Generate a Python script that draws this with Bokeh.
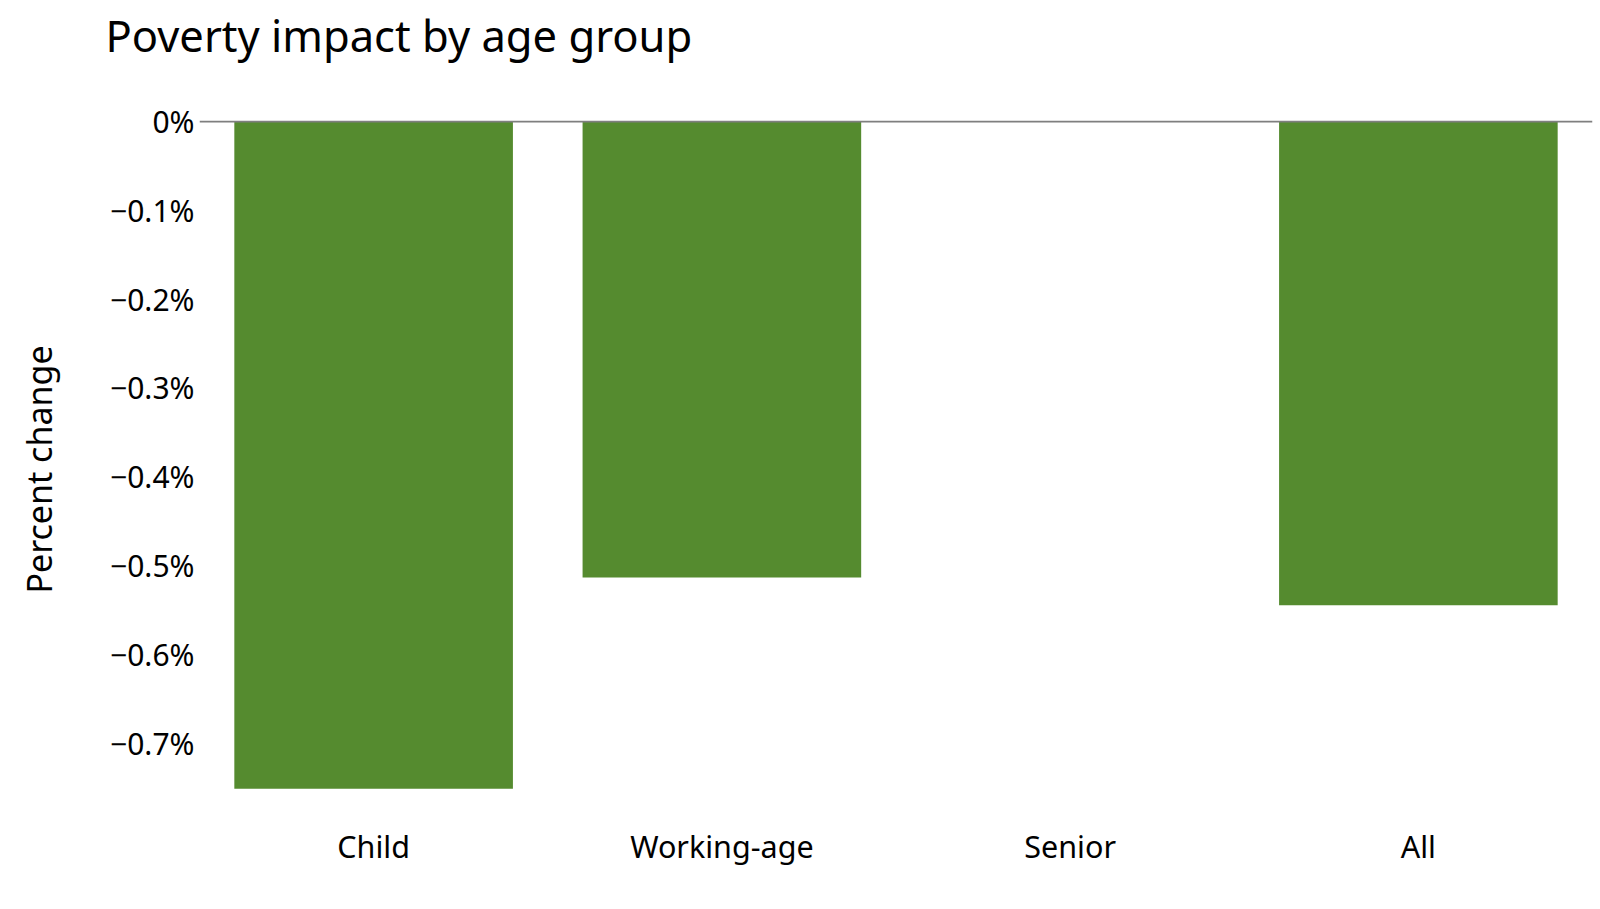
from bokeh.plotting import figure
from bokeh.models import FactorRange, Range1d, Span, FixedTicker, CustomJSTickFormatter, Title
from bokeh.embed import file_html
from bokeh.resources import INLINE

categories = ["Child", "Working-age", "Senior", "All"]
values = [-0.7516, -0.5137, 0.0, -0.5447]  # percent change
tick_values = [0, -0.1, -0.2, -0.3, -0.4, -0.5, -0.6, -0.7]
tick_labels = ["0%", "\u22120.1%", "\u22120.2%", "\u22120.3%", "\u22120.4%", "\u22120.5%", "\u22120.6%", "\u22120.7%"]
title_text = "Poverty impact by age group"

FONT = "Noto Sans"
BAR = "#558B2F"

p = figure(
    width=1600, height=909,
    x_range=FactorRange(*categories, range_padding=0),
    y_range=Range1d(-0.785, 0.00113),
    output_backend="svg", toolbar_location=None,
    min_border_left=199, min_border_right=8, min_border_top=120, min_border_bottom=91,
)
p.outline_line_color = None
p.background_fill_color = "white"
p.border_fill_color = "white"

# spacer between frame and title (closest to the frame), then the title
p.add_layout(Title(text=" ", text_font=FONT, text_font_size="39.5px", standoff=0), "above")
p.add_layout(Title(text=title_text, text_font=FONT, text_font_size="43.5px",
                   text_font_style="normal", text_color="black", align="left",
                   offset=-94, standoff=0), "above")

p.vbar(x=categories, top=[0] * len(values), bottom=values, width=0.8,
       fill_color=BAR, line_color=None)

zero = Span(location=0, dimension="width", line_color="#7f7f7f", line_width=2, level="overlay")
p.add_layout(zero)

p.xgrid.visible = False
p.ygrid.visible = False

p.xaxis.axis_line_color = None
p.xaxis.major_tick_line_color = None
p.xaxis.minor_tick_line_color = None
p.xaxis.major_tick_out = 0
p.xaxis.major_label_text_font = FONT
p.xaxis.major_label_text_font_size = "30.5px"
p.xaxis.major_label_text_color = "black"
p.xaxis.major_label_standoff = 6

p.yaxis.ticker = FixedTicker(ticks=tick_values)
p.yaxis.formatter = CustomJSTickFormatter(
    args=dict(vals=tick_values, labs=tick_labels),
    code="""
    for (let i = 0; i < vals.length; i++) {
        if (Math.abs(vals[i] - tick) < 1e-9) return labs[i];
    }
    return "";
    """)
p.yaxis.axis_line_color = None
p.yaxis.major_tick_line_color = None
p.yaxis.minor_tick_line_color = None
p.yaxis.major_tick_out = 0
p.yaxis.major_label_text_font = FONT
p.yaxis.major_label_text_font_size = "30px"
p.yaxis.major_label_text_color = "black"
p.yaxis.major_label_standoff = 5
p.yaxis.axis_label = "Percent change"
p.yaxis.axis_label_text_font = FONT
p.yaxis.axis_label_text_font_size = "34px"
p.yaxis.axis_label_text_font_style = "normal"
p.yaxis.axis_label_text_color = "black"
p.yaxis.axis_label_standoff = 45

open("out.html", "w").write(file_html(p, INLINE))
